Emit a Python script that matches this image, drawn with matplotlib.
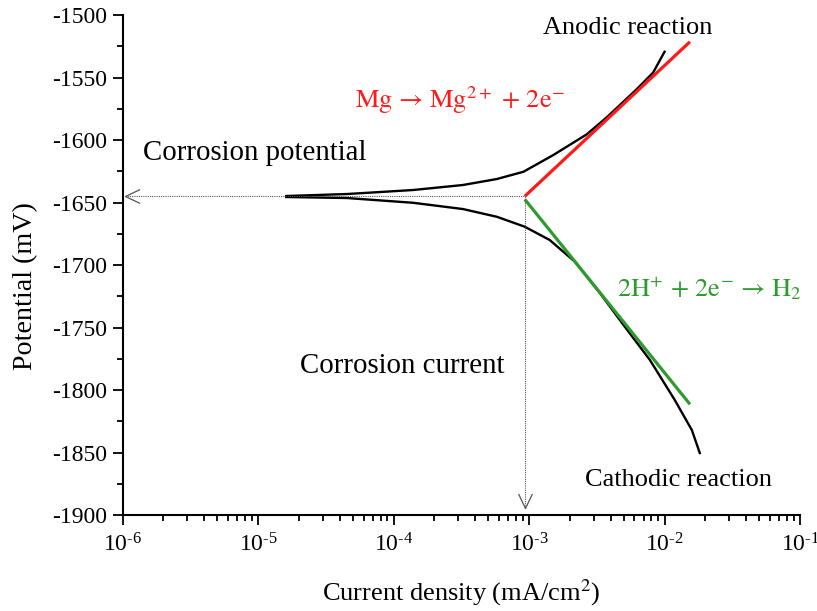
import matplotlib
matplotlib.use('Agg')
import matplotlib.pyplot as plt
from matplotlib.path import Path
from matplotlib.ticker import LogLocator, MultipleLocator, FuncFormatter, NullFormatter
import numpy as np

plt.rcParams['font.family'] = ['Liberation Serif', 'DejaVu Serif']
plt.rcParams['mathtext.fontset'] = 'stix'
plt.rcParams['axes.unicode_minus'] = False

# polarisation curve (current in mA/cm2, potential in mV)
anodic_i = [1.61e-5, 4.52e-5, 1.39e-4, 3.24e-4, 5.78e-4, 9.08e-4, 1.51e-3,
            2.66e-3, 3.73e-3, 4.68e-3, 6.21e-3, 8.24e-3, 1.00e-2]
anodic_e = [-1644.8, -1643.2, -1640.0, -1636.0, -1631.2, -1625.4, -1612.0,
            -1595.5, -1582.0, -1572.0, -1559.5, -1546.0, -1529.4]
cathodic_i = [1.61e-5, 4.52e-5, 1.39e-4, 3.24e-4, 5.78e-4, 9.31e-4, 1.42e-3,
              2.18e-3, 3.33e-3, 5.09e-3, 7.80e-3, 1.19e-2, 1.59e-2, 1.82e-2]
cathodic_e = [-1645.6, -1646.4, -1650.2, -1655.2, -1661.4, -1669.4, -1680.0,
              -1697.4, -1722.4, -1749.4, -1776.0, -1808.0, -1832.0, -1850.4]

# tafel extrapolation lines
tafel_a_i = [9.3e-4, 1.54e-2]
tafel_a_e = [-1645.0, -1521.4]
tafel_c_i = [9.3e-4, 1.54e-2]
tafel_c_e = [-1647.5, -1811.4]

e_corr = -1645.0
i_corr = 9.3e-4

fig = plt.figure(figsize=(8.17, 6.11), dpi=100)
ax = fig.add_axes([0.1502, 0.1571, 0.829, 0.8183])

ax.plot(anodic_i, anodic_e, color='black', lw=1.7)
ax.plot(cathodic_i, cathodic_e, color='black', lw=1.7)
ax.plot(tafel_a_i, tafel_a_e, color='#ff1a1a', lw=2.3, solid_capstyle='butt')
ax.plot(tafel_c_i, tafel_c_e, color='#2e9b2e', lw=2.3, solid_capstyle='butt')

# dotted guides with open arrow heads
gray = '#555555'
ax.plot([1.04e-6, i_corr], [e_corr, e_corr], color=gray, lw=0.8, ls=(0, (1, 1)))
ax.plot([i_corr, i_corr], [e_corr, -1894.4], color=gray, lw=0.8, ls=(0, (1, 1)))
head_left = Path([(2.1, 1.0), (0, 0), (2.1, -1.0)])
head_down = Path([(-1.0, 2.1), (0, 0), (1.0, 2.1)])
ax.plot([1.04e-6], [e_corr], marker=head_left, ms=21, mfc='none', mec=gray, mew=0.9, clip_on=False)
ax.plot([i_corr], [-1894.4], marker=head_down, ms=21, mfc='none', mec=gray, mew=0.9, clip_on=False)

ax.set_xscale('log')
ax.set_xlim(1e-6, 1e-1)
ax.set_ylim(-1900, -1500)

ax.xaxis.set_major_locator(LogLocator(base=10, numticks=10))
ax.xaxis.set_minor_locator(LogLocator(base=10, subs=np.arange(2, 10), numticks=10))
ax.xaxis.set_minor_formatter(NullFormatter())
ax.xaxis.set_major_formatter(FuncFormatter(
    lambda v, p: '$\\mathregular{10^{\u2010%d}}$' % abs(round(np.log10(v)))))
ax.yaxis.set_major_locator(MultipleLocator(50))
ax.yaxis.set_minor_locator(MultipleLocator(25))

for s in ['top', 'right']:
    ax.spines[s].set_visible(False)
for s in ['left', 'bottom']:
    ax.spines[s].set_linewidth(1.5)

ax.tick_params(which='major', direction='out', length=7.5, width=1.3, labelsize=17)
ax.tick_params(which='minor', direction='out', length=4.3, width=1.3)
ax.tick_params(axis='y', which='major', pad=4)
ax.tick_params(axis='x', which='major', pad=6)

ax.set_xlabel(r'Current density (mA/cm$^{2}$)', fontsize=19)
ax.xaxis.label.set_va('baseline')
ax.xaxis.set_label_coords(0.5, -0.17)
ax.set_ylabel('Potential (mV)', fontsize=20.2)
ax.yaxis.label.set_va('center')
ax.yaxis.set_label_coords(-0.144, 0.458)

fs = 19
fs2 = 20.8
chem = ['STIXGeneral', 'Liberation Serif', 'DejaVu Serif']
ax.text(1.26e-3, -1515.4, 'Anodic reaction', fontsize=fs, va='baseline')
ax.text(5.18e-5, -1574.4, 'Mg \u2192 Mg$^{2+}$ + 2e$^{-}$', fontsize=fs,
        color='#ff1a1a', va='baseline', family=chem)
ax.text(1.41e-6, -1616.0, 'Corrosion potential', fontsize=fs2, va='baseline')
ax.text(2.04e-5, -1786.6, 'Corrosion current', fontsize=fs2, va='baseline')
ax.text(4.45e-3, -1724.8, '2H$^{+}$ + 2e$^{-}$ \u2192 H$_{2}$', fontsize=fs,
        color='#2e9b2e', va='baseline', family=chem)
ax.text(2.58e-3, -1876.8, 'Cathodic reaction', fontsize=fs, va='baseline')

plt.savefig('out.png', dpi=100)
